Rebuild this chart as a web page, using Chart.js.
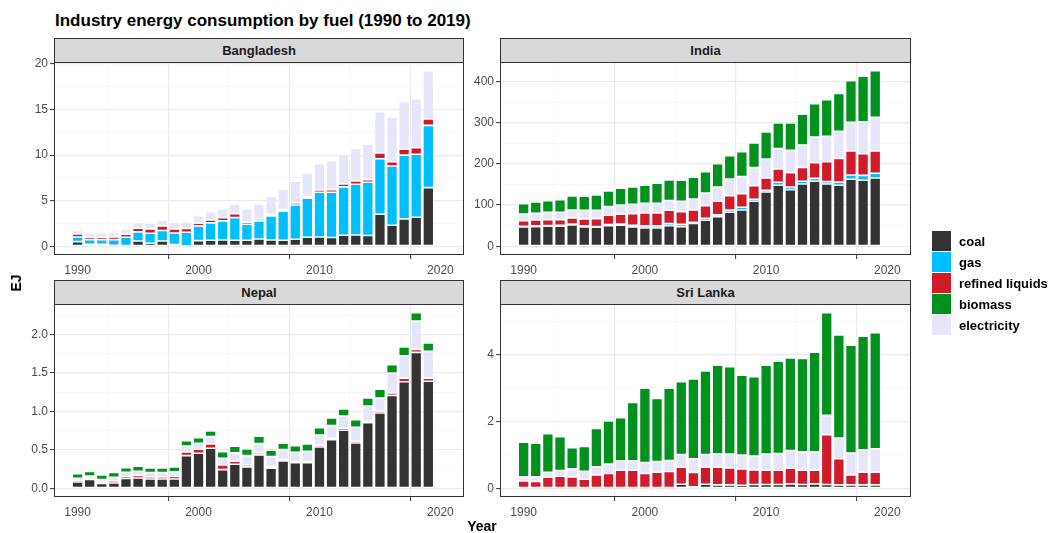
<!DOCTYPE html>
<html>
<head>
<meta charset="utf-8">
<script src="https://cdn.jsdelivr.net/npm/chart.js@4.4.1/dist/chart.umd.min.js"></script>
<style>
body { margin: 0; background: #fff; width: 1051px; height: 533px; position: relative; overflow: hidden;
       font-family: "Liberation Sans", Arial, sans-serif; }
canvas { position: absolute; }
#title { position: absolute; left: 55px; top: 11px; font-size: 17px; font-weight: bold; color: #000; white-space: nowrap; }
.strip { position: absolute; box-sizing: border-box; height: 25px; background: #D9D9D9; border: 1px solid #333;
         font-size: 13px; font-weight: bold; color: #1A1A1A; text-align: center; line-height: 23px; }
.axis-title { position: absolute; font-size: 14px; font-weight: bold; color: #000; white-space: nowrap; }
#ylab { left: 16px; top: 283px; transform: translate(-50%, -50%) rotate(-90deg); }
#xlab { left: 482px; top: 526px; transform: translate(-50%, -50%); }
.key { position: absolute; left: 932px; width: 19px; height: 20px; }
.key-label { position: absolute; left: 959px; font-size: 13px; font-weight: bold; color: #000; line-height: 20px; white-space: nowrap; }
</style>
</head>
<body>
<div id="title">Industry energy consumption by fuel (1990 to 2019)</div>
<canvas id="bd"></canvas>
<canvas id="in"></canvas>
<canvas id="np"></canvas>
<canvas id="lk"></canvas>
<div class="strip" style="left:54px; top:38px; width:410px;">Bangladesh</div>
<div class="strip" style="left:500px; top:38px; width:411px;">India</div>
<div class="strip" style="left:54px; top:280px; width:410px;">Nepal</div>
<div class="strip" style="left:500px; top:280px; width:411px;">Sri Lanka</div>
<div class="axis-title" id="ylab">EJ</div>
<div class="axis-title" id="xlab">Year</div>
<div id="legend"></div>
<script>
var years = [1990, 1991, 1992, 1993, 1994, 1995, 1996, 1997, 1998, 1999,
             2000, 2001, 2002, 2003, 2004, 2005, 2006, 2007, 2008, 2009,
             2010, 2011, 2012, 2013, 2014, 2015, 2016, 2017, 2018, 2019];

// Bangladesh
var bdCoal = [0.51, 0.22, 0.22, 0.11, 0.07, 0.58, 0.33, 0.58, 0.18, 0.04, 0.62, 0.66, 0.69, 0.66, 0.66, 0.80, 0.69, 0.66, 0.77, 0.99, 1.02, 0.95, 1.21, 1.24, 1.17, 3.51, 2.30, 3.00, 3.18, 6.43];
var bdGas  = [0.51, 0.51, 0.51, 0.62, 0.92, 0.99, 1.10, 1.14, 1.28, 1.50, 1.61, 1.90, 2.09, 2.48, 1.75, 1.98, 2.64, 3.18, 3.76, 4.27, 4.90, 4.97, 5.30, 5.56, 5.85, 6.10, 6.51, 7.00, 6.91, 6.84];
var bdOil  = [0.33, 0.26, 0.26, 0.29, 0.33, 0.40, 0.47, 0.51, 0.44, 0.40, 0.29, 0.33, 0.36, 0.44, 0.22, 0.22, 0.18, 0.18, 0.22, 0.19, 0.26, 0.29, 0.32, 0.36, 0.29, 0.62, 0.47, 0.64, 0.73, 0.69];
var bdElec = [0.37, 0.40, 0.47, 0.52, 0.54, 0.63, 0.62, 0.62, 0.70, 0.76, 0.84, 0.91, 0.99, 1.06, 1.50, 1.64, 1.97, 2.23, 2.38, 2.59, 2.88, 3.18, 3.26, 3.59, 3.91, 4.54, 4.90, 5.26, 5.37, 5.30];
var bdBio  = [0, 0, 0, 0, 0, 0, 0, 0, 0, 0, 0, 0, 0, 0, 0, 0, 0, 0, 0, 0, 0, 0, 0, 0, 0, 0, 0, 0, 0, 0];

// India
var inCoal = [46.9, 47.7, 48.5, 48.5, 51.7, 46.9, 46.1, 50.1, 50.9, 46.9, 44.4, 44.4, 50.1, 47.7, 55.0, 63.0, 71.9, 82.4, 88.1, 109.1, 131.7, 147.9, 137.4, 151.1, 157.6, 151.1, 147.9, 162.4, 160.0, 165.7];
var inGas  = [1.6, 1.6, 1.6, 2.4, 2.4, 2.4, 1.6, 2.4, 3.2, 4.0, 4.9, 4.9, 4.9, 5.6, 3.2, 4.9, 4.1, 5.7, 6.4, 4.8, 4.1, 7.3, 6.4, 6.5, 7.2, 5.7, 8.1, 10.5, 12.1, 11.3];
var inOil  = [13.7, 14.5, 14.5, 13.7, 14.6, 17.0, 19.4, 22.7, 23.5, 28.3, 31.5, 31.5, 32.3, 30.7, 29.9, 30.7, 33.1, 34.7, 33.2, 33.2, 29.9, 32.3, 34.8, 33.9, 38.0, 48.5, 57.3, 58.2, 52.5, 54.1];
var inElec = [16.2, 16.2, 17.8, 17.8, 19.4, 21.0, 20.2, 21.0, 22.6, 22.6, 23.4, 23.4, 23.4, 25.1, 26.6, 30.7, 34.7, 40.4, 41.2, 43.6, 46.0, 49.3, 54.1, 54.2, 62.3, 61.4, 65.5, 69.5, 77.6, 81.6];
var inBio  = [25.0, 27.5, 28.3, 30.7, 33.9, 33.9, 37.1, 37.9, 40.4, 42.0, 43.7, 48.5, 50.1, 50.9, 52.6, 51.7, 56.6, 56.6, 60.6, 59.8, 65.5, 62.2, 66.3, 75.1, 80.8, 88.9, 92.1, 101.0, 110.7, 113.2];

// Nepal
var npCoal = [0.082, 0.113, 0.061, 0.069, 0.126, 0.134, 0.121, 0.121, 0.121, 0.425, 0.456, 0.521, 0.243, 0.312, 0.278, 0.434, 0.260, 0.356, 0.334, 0.334, 0.538, 0.633, 0.755, 0.590, 0.855, 0.980, 1.210, 1.388, 1.770, 1.393];
var npGas  = [0, 0, 0, 0, 0, 0, 0, 0, 0, 0, 0, 0, 0, 0, 0, 0, 0, 0, 0, 0, 0, 0, 0, 0, 0, 0, 0, 0, 0, 0];
var npOil  = [0.022, 0.017, 0.021, 0.026, 0.026, 0.031, 0.027, 0.027, 0.031, 0.048, 0.052, 0.056, 0.061, 0.039, 0.026, 0.026, 0.022, 0.017, 0.013, 0.013, 0.022, 0.018, 0.026, 0.022, 0.021, 0.022, 0.031, 0.044, 0.039, 0.039];
var npElec = [0.026, 0.030, 0.031, 0.048, 0.056, 0.056, 0.056, 0.056, 0.061, 0.078, 0.078, 0.095, 0.086, 0.109, 0.121, 0.121, 0.130, 0.130, 0.122, 0.135, 0.134, 0.165, 0.160, 0.182, 0.196, 0.174, 0.260, 0.295, 0.369, 0.351];
var npBio  = [0.060, 0.057, 0.061, 0.061, 0.061, 0.065, 0.061, 0.061, 0.065, 0.069, 0.073, 0.074, 0.087, 0.087, 0.087, 0.096, 0.083, 0.083, 0.086, 0.095, 0.096, 0.099, 0.092, 0.100, 0.104, 0.113, 0.109, 0.113, 0.108, 0.109];

// Sri Lanka
var lkCoal = [0, 0, 0, 0, 0, 0, 0, 0, 0, 0, 0, 0, 0.02, 0.12, 0.04, 0.12, 0.10, 0.10, 0.09, 0.11, 0.11, 0.11, 0.13, 0.11, 0.13, 0.11, 0.10, 0.10, 0.10, 0.10];
var lkGas  = [0, 0, 0, 0, 0, 0, 0, 0, 0, 0, 0, 0, 0, 0, 0, 0, 0, 0, 0, 0, 0, 0, 0, 0, 0, 0, 0, 0, 0, 0];
var lkOil  = [0.22, 0.20, 0.33, 0.36, 0.34, 0.27, 0.40, 0.44, 0.54, 0.54, 0.44, 0.48, 0.48, 0.51, 0.43, 0.51, 0.53, 0.51, 0.49, 0.44, 0.43, 0.43, 0.47, 0.43, 0.41, 1.49, 0.78, 0.30, 0.38, 0.38];
var lkElec = [0.12, 0.14, 0.15, 0.17, 0.24, 0.24, 0.24, 0.28, 0.28, 0.28, 0.33, 0.32, 0.33, 0.38, 0.41, 0.38, 0.40, 0.41, 0.41, 0.41, 0.48, 0.50, 0.53, 0.55, 0.55, 0.58, 0.62, 0.65, 0.67, 0.70];
var lkBio  = [1.04, 1.01, 1.15, 1.01, 0.63, 0.74, 1.15, 1.29, 1.29, 1.75, 2.22, 1.89, 2.16, 2.18, 2.39, 2.50, 2.65, 2.62, 2.39, 2.38, 2.66, 2.76, 2.77, 2.79, 2.98, 3.07, 3.09, 3.23, 3.40, 3.47];

// legend order
var fuels = ['coal', 'gas', 'refined liquids', 'biomass', 'electricity'];
var fuelColors = {
    'coal': '#333333',
    'gas': '#00BFFF',
    'refined liquids': '#D01C2A',
    'biomass': '#00911F',
    'electricity': '#E6E6FA'
};
// stacking order, bottom to top
var stackOrder = ['coal', 'gas', 'refined liquids', 'electricity', 'biomass'];

var xMajor = [1990, 2000, 2010, 2020];
var xMinor = [1995, 2005, 2015];

var FONT = '"Liberation Sans", Arial, sans-serif';
var Y_W = 46, X_H = 28, PAD_TOP = 10, PAD_RIGHT = 4;

function has(list, v) {
    return list.some(function (m) { return Math.abs(m - v) < 1e-9; });
}

var panelBorder = {
    id: 'panelBorder',
    afterDraw: function (chart) {
        var a = chart.chartArea, ctx = chart.ctx;
        ctx.save();
        ctx.strokeStyle = '#333333';
        ctx.lineWidth = 1;
        ctx.strokeRect(Math.round(a.left) + 0.5, Math.round(a.top) + 0.5,
                       Math.round(a.right - a.left) - 1, Math.round(a.bottom - a.top) - 1);
        ctx.restore();
    }
};

function gridOpts(majors) {
    function isMajor(c) { return c.tick ? has(majors, c.tick.value) : true; }
    return {
        color: function (c) { return isMajor(c) ? '#EBEBEB' : '#F4F4F4'; },
        lineWidth: function (c) { return isMajor(c) ? 1.2 : 0.7; },
        tickColor: function (c) { return isMajor(c) ? '#333333' : 'rgba(0,0,0,0)'; },
        tickWidth: 1,
        tickLength: 4
    };
}

function drawPanel(id, left, top, width, height, series, yMajor, yMinor, decimals) {
    var canvas = document.getElementById(id);
    canvas.width = Y_W + width + PAD_RIGHT;
    canvas.height = PAD_TOP + height + X_H;
    canvas.style.left = (left - Y_W) + 'px';
    canvas.style.top = (top - PAD_TOP) + 'px';

    var totals = years.map(function (y, i) {
        return stackOrder.reduce(function (s, f) { return s + series[f][i]; }, 0);
    });
    var maxTotal = Math.max.apply(null, totals);

    var datasets = stackOrder.map(function (f) {
        return {
            label: f,
            data: series[f],
            backgroundColor: fuelColors[f],
            borderColor: 'rgba(255,255,255,0.5)',
            borderWidth: 0.8,
            borderSkipped: false,
            barPercentage: 0.9,
            categoryPercentage: 1.0
        };
    });

    new Chart(canvas, {
        type: 'bar',
        data: { labels: years, datasets: datasets },
        plugins: [panelBorder],
        options: {
            responsive: false,
            animation: false,
            layout: { padding: { top: PAD_TOP, right: PAD_RIGHT, left: 0, bottom: 0 } },
            plugins: { legend: { display: false }, tooltip: { enabled: false } },
            scales: {
                x: {
                    type: 'linear',
                    stacked: true,
                    offset: false,
                    min: 1988.05,
                    max: 2021.95,
                    afterBuildTicks: function (axis) {
                        axis.ticks = xMajor.concat(xMinor).sort().map(function (v) { return { value: v }; });
                    },
                    afterFit: function (s) { s.height = X_H; s.paddingLeft = 0; s.paddingRight = 0; },
                    grid: gridOpts(xMajor),
                    border: { display: false },
                    ticks: {
                        autoSkip: false,
                        maxRotation: 0,
                        padding: 4,
                        color: '#4D4D4D',
                        font: { size: 12, family: FONT },
                        callback: function (v) { return has(xMajor, v) ? String(v) : ''; }
                    }
                },
                y: {
                    stacked: true,
                    min: -0.05 * maxTotal,
                    max: 1.05 * maxTotal,
                    afterBuildTicks: function (axis) {
                        axis.ticks = yMajor.concat(yMinor).sort(function (a, b) { return a - b; })
                            .map(function (v) { return { value: v }; });
                    },
                    afterFit: function (s) { s.width = Y_W; s.paddingTop = 0; s.paddingBottom = 0; },
                    grid: gridOpts(yMajor),
                    border: { display: false },
                    ticks: {
                        padding: 2,
                        color: '#4D4D4D',
                        font: { size: 12, family: FONT },
                        callback: function (v) { return has(yMajor, v) ? v.toFixed(decimals) : ''; }
                    }
                }
            }
        }
    });
}

drawPanel('bd', 54, 62, 410, 193,
    { 'coal': bdCoal, 'gas': bdGas, 'refined liquids': bdOil, 'electricity': bdElec, 'biomass': bdBio },
    [0, 5, 10, 15, 20], [2.5, 7.5, 12.5, 17.5], 0);
drawPanel('in', 500, 62, 411, 193,
    { 'coal': inCoal, 'gas': inGas, 'refined liquids': inOil, 'electricity': inElec, 'biomass': inBio },
    [0, 100, 200, 300, 400], [50, 150, 250, 350], 0);
drawPanel('np', 54, 304, 410, 193,
    { 'coal': npCoal, 'gas': npGas, 'refined liquids': npOil, 'electricity': npElec, 'biomass': npBio },
    [0, 0.5, 1, 1.5, 2], [0.25, 0.75, 1.25, 1.75, 2.25], 1);
drawPanel('lk', 500, 304, 411, 193,
    { 'coal': lkCoal, 'gas': lkGas, 'refined liquids': lkOil, 'electricity': lkElec, 'biomass': lkBio },
    [0, 2, 4], [1, 3, 5], 0);

// legend
var legend = document.getElementById('legend');
fuels.forEach(function (f, i) {
    var key = document.createElement('div');
    key.className = 'key';
    key.style.top = (231 + i * 21) + 'px';
    key.style.background = fuelColors[f];
    legend.appendChild(key);
    var lab = document.createElement('div');
    lab.className = 'key-label';
    lab.style.top = (232 + i * 21) + 'px';
    lab.textContent = f;
    legend.appendChild(lab);
});
</script>
</body>
</html>
